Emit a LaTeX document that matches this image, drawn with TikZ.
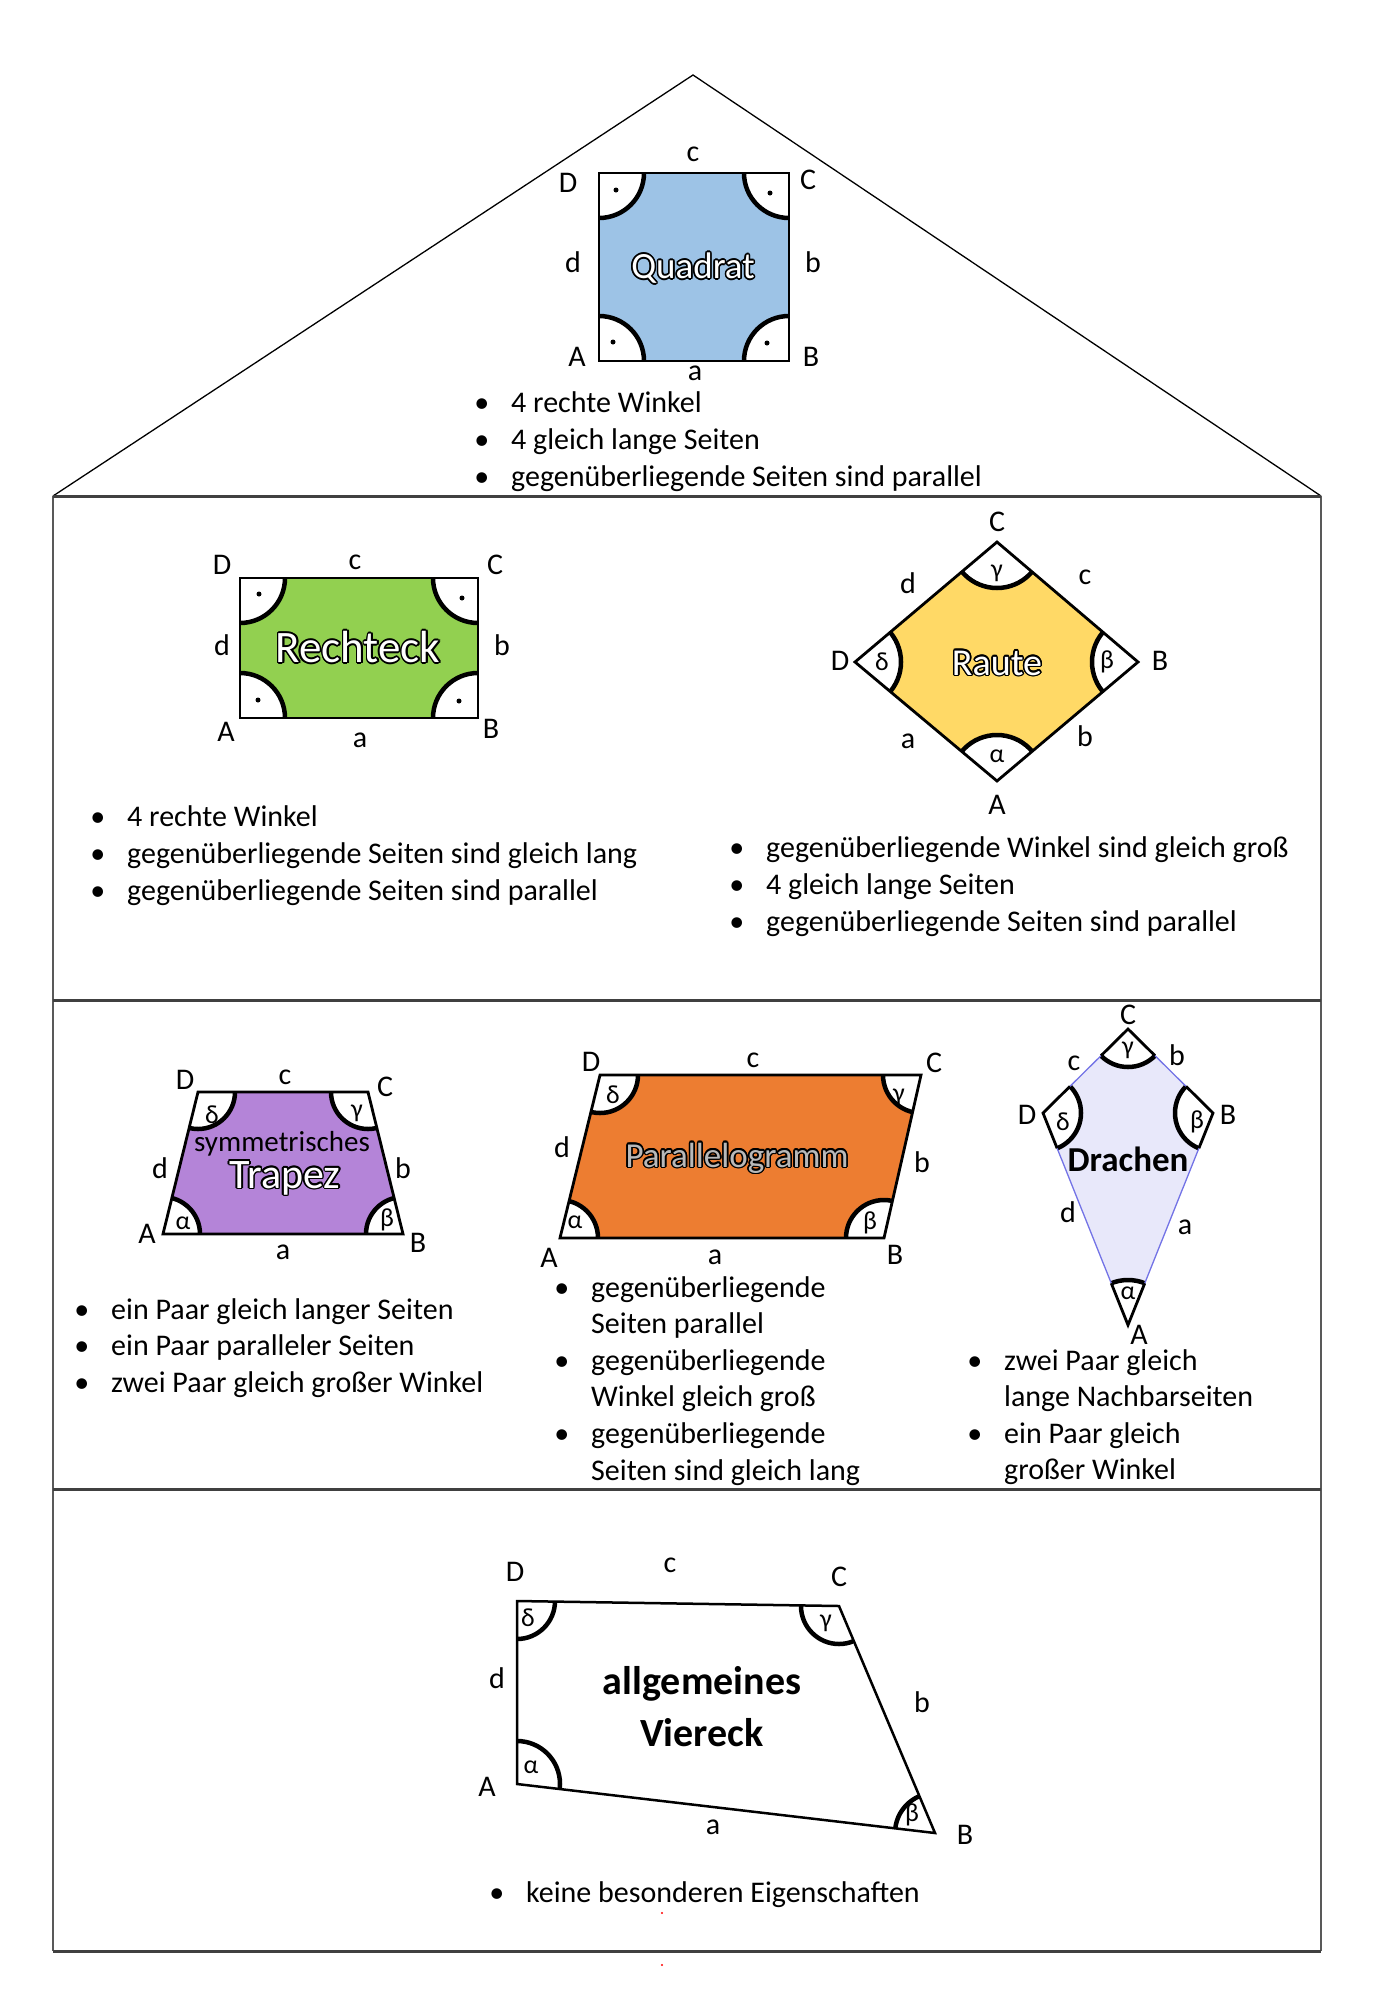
\documentclass[tikz,border=0pt]{standalone}
\usepackage{fontspec}
\setmainfont{Carlito}

\definecolor{quadratblue}{RGB}{157,195,230}
\definecolor{rechteckgreen}{RGB}{146,208,80}
\definecolor{rauteyellow}{RGB}{255,217,102}
\definecolor{trapezpurple}{RGB}{180,132,216}
\definecolor{parorange}{RGB}{237,125,49}
\definecolor{drachenfill}{RGB}{232,232,250}
\definecolor{drachenline}{RGB}{115,115,230}
\definecolor{wallgray}{RGB}{64,64,64}

% Schrift mit Umriss
\newcommand{\outlinetext}[5]{%
  \foreach \ang in {0,30,...,330}
    \node[font=\fontsize{#3}{#3}\selectfont,text=black,shift={(\ang:1.6pt)}] (#1h\ang) at (#2) {#5};
  \node[font=\fontsize{#3}{#3}\selectfont,text=#4] (#1) at (#2) {#5};}

\begin{document}
\begin{tikzpicture}[x=1pt,y=-1pt,
    every node/.style={inner sep=0pt},
    lab/.style={font=\fontsize{30}{30}\selectfont},
    greek/.style={font=\fontsize{26}{26}\selectfont},
    shapeline/.style={line width=2.8pt,line join=miter},
    anglemark/.style={draw=black,fill=white,line width=4.5pt},
    bulletline/.style={anchor=base west,font=\fontsize{30}{37}\selectfont,
      execute at begin node={\llap{\textbullet\hspace{22pt}}}},
    contline/.style={anchor=base west,font=\fontsize{30}{37}\selectfont}]
\useasboundingbox (0,0) rectangle (1385,2000);

% Haus
\coordinate (roofL) at (53,496);
\coordinate (roofTop) at (693,75);
\coordinate (roofR) at (1321,496);
\coordinate (baseL) at (53,1951);
\coordinate (baseR) at (1321,1951);
\draw[line width=1.3pt] (roofL) -- (roofTop) -- (roofR);
\draw[gray!70!black,line width=1.3pt] (roofL) -- (baseL) (roofR) -- (baseR);
\foreach \y in {496,1000,1489,1951}
  \draw[wallgray,line width=3pt] (53,\y) -- (1321,\y);

% Quadrat
\coordinate (qA) at (599,361);
\coordinate (qB) at (789,361);
\coordinate (qC) at (789,173);
\coordinate (qD) at (599,173);
\fill[quadratblue] (qA) -- (qB) -- (qC) -- (qD) -- cycle;
\begin{scope}
  \clip (qA) -- (qB) -- (qC) -- (qD) -- cycle;
  \foreach \v in {qA,qB,qC,qD} \draw[anglemark] (\v) circle (45pt);
\end{scope}
\draw[shapeline] (qA) -- (qB) -- (qC) -- (qD) -- cycle;
\foreach \p in {(616,190),(770,193),(613,342),(767,343)} \fill \p circle (2.5pt);
\outlinetext{qname}{693,268}{37}{white}{Quadrat}
\node[lab] (qlA) at (577,357) {A};
\node[lab] (qlB) at (811,357) {B};
\node[lab] (qlC) at (808,180) {C};
\node[lab] (qlD) at (568,183) {D};
\node[lab] (qla) at (695,373) {a};
\node[lab] (qlb) at (813,262) {b};
\node[lab] (qlc) at (693,154) {c};
\node[lab] (qld) at (573,262) {d};
\foreach \txt [count=\i from 0] in {4 rechte Winkel,4 gleich lange Seiten,gegenüberliegende Seiten sind parallel}
  \node[bulletline] (qt\i) at (511,{412+37*\i}) {\txt};

% Rechteck
\coordinate (rA) at (240,718);
\coordinate (rB) at (478,718);
\coordinate (rC) at (478,578);
\coordinate (rD) at (240,578);
\fill[rechteckgreen] (rA) -- (rB) -- (rC) -- (rD) -- cycle;
\begin{scope}
  \clip (rA) -- (rB) -- (rC) -- (rD) -- cycle;
  \foreach \v in {rA,rB,rC,rD} \draw[anglemark] (\v) circle (45pt);
\end{scope}
\draw[shapeline] (rA) -- (rB) -- (rC) -- (rD) -- cycle;
\foreach \p in {(259,594),(462,598),(258,700),(459,701)} \fill \p circle (2.5pt);
\outlinetext{rname}{358,647}{45}{white}{Rechteck}
\node[lab] (rlA) at (226,732) {A};
\node[lab] (rlB) at (491,729) {B};
\node[lab] (rlC) at (495,565) {C};
\node[lab] (rlD) at (222,565) {D};
\node[lab] (rla) at (360,740) {a};
\node[lab] (rlb) at (502,645) {b};
\node[lab] (rlc) at (355,562) {c};
\node[lab] (rld) at (222,645) {d};
\foreach \txt [count=\i from 0] in {4 rechte Winkel,gegenüberliegende Seiten sind gleich lang,gegenüberliegende Seiten sind parallel}
  \node[bulletline] (rt\i) at (127,{826+37*\i}) {\txt};

% Raute
\coordinate (hA) at (997,781);
\coordinate (hB) at (1138,662);
\coordinate (hC) at (997,542);
\coordinate (hD) at (855,662);
\fill[rauteyellow] (hA) -- (hB) -- (hC) -- (hD) -- cycle;
\begin{scope}
  \clip (hA) -- (hB) -- (hC) -- (hD) -- cycle;
  \foreach \v in {hA,hB,hC,hD} \draw[anglemark] (\v) circle (46pt);
\end{scope}
\draw[shapeline] (hA) -- (hB) -- (hC) -- (hD) -- cycle;
\outlinetext{hname}{997,663}{38}{white}{Raute}
\node[greek] (hgA) at (997,756) {α};
\node[greek] (hgB) at (1107,662) {β};
\node[greek] (hgC) at (997,573) {γ};
\node[greek] (hgD) at (882,662) {δ};
\node[lab] (hlA) at (997,805) {A};
\node[lab] (hlB) at (1160,661) {B};
\node[lab] (hlC) at (997,522) {C};
\node[lab] (hlD) at (840,661) {D};
\node[lab] (hla) at (908,741) {a};
\node[lab] (hlb) at (1085,736) {b};
\node[lab] (hlc) at (1085,577) {c};
\node[lab] (hld) at (908,583) {d};
\foreach \txt [count=\i from 0] in {gegenüberliegende Winkel sind gleich groß,4 gleich lange Seiten,gegenüberliegende Seiten sind parallel}
  \node[bulletline] (ht\i) at (766,{857+37*\i}) {\txt};

% symmetrisches Trapez
\coordinate (tA) at (163,1234);
\coordinate (tB) at (403,1234);
\coordinate (tC) at (368,1092);
\coordinate (tD) at (198,1092);
\fill[trapezpurple] (tA) -- (tB) -- (tC) -- (tD) -- cycle;
\begin{scope}
  \clip (tA) -- (tB) -- (tC) -- (tD) -- cycle;
  \foreach \v in {tA,tB,tC,tD} \draw[anglemark] (\v) circle (37pt);
\end{scope}
\draw[shapeline] (tA) -- (tB) -- (tC) -- (tD) -- cycle;
\node[font=\fontsize{29}{29}\selectfont] (tname1) at (282,1144) {symmetrisches};
\outlinetext{tname2}{285,1178}{42}{white}{Trapez}
\node[greek] (tgA) at (183,1223) {α};
\node[greek] (tgB) at (387,1220) {β};
\node[greek] (tgC) at (357,1113) {γ};
\node[greek] (tgD) at (212,1115) {δ};
\node[lab] (tlA) at (147,1234) {A};
\node[lab] (tlB) at (418,1243) {B};
\node[lab] (tlC) at (385,1087) {C};
\node[lab] (tlD) at (185,1080) {D};
\node[lab] (tla) at (283,1252) {a};
\node[lab] (tlb) at (403,1168) {b};
\node[lab] (tlc) at (285,1077) {c};
\node[lab] (tld) at (160,1168) {d};
\foreach \txt [count=\i from 0] in {ein Paar gleich langer Seiten,ein Paar paralleler Seiten,zwei Paar gleich großer Winkel}
  \node[bulletline] (tt\i) at (111,{1319+36.6*\i}) {\txt};

% Parallelogramm
\coordinate (pA) at (560,1238);
\coordinate (pB) at (884,1238);
\coordinate (pC) at (921,1075);
\coordinate (pD) at (600,1075);
\fill[parorange] (pA) -- (pB) -- (pC) -- (pD) -- cycle;
\begin{scope}
  \clip (pA) -- (pB) -- (pC) -- (pD) -- cycle;
  \foreach \v in {pA,pB,pC,pD} \draw[anglemark] (\v) circle (38pt);
\end{scope}
\draw[shapeline] (pA) -- (pB) -- (pC) -- (pD) -- cycle;
\outlinetext{pname}{737,1158}{35}{gray!55}{Parallelogramm}
\node[greek] (pgA) at (575,1222) {α};
\node[greek] (pgB) at (870,1223) {β};
\node[greek] (pgC) at (899,1097) {γ};
\node[greek] (pgD) at (613,1095) {δ};
\node[lab] (plA) at (549,1258) {A};
\node[lab] (plB) at (895,1255) {B};
\node[lab] (plC) at (934,1063) {C};
\node[lab] (plD) at (591,1062) {D};
\node[lab] (pla) at (715,1257) {a};
\node[lab] (plb) at (922,1162) {b};
\node[lab] (plc) at (753,1060) {c};
\node[lab] (pld) at (562,1147) {d};
\foreach \first/\second [count=\i from 0] in {gegenüberliegende/Seiten parallel,gegenüberliegende/Winkel gleich groß,gegenüberliegende/Seiten sind gleich lang} {
  \node[bulletline] (pt\i a) at (591,{1297+73.2*\i}) {\first};
  \node[contline] (pt\i b) at (591,{1333.6+73.2*\i}) {\second};
}

% Drachen
\coordinate (dA) at (1128,1325);
\coordinate (dB) at (1213,1113);
\coordinate (dC) at (1128,1029);
\coordinate (dD) at (1043,1113);
\fill[drachenfill] (dA) -- (dB) -- (dC) -- (dD) -- cycle;
\begin{scope}
  \clip (dA) -- (dB) -- (dC) -- (dD) -- cycle;
  \foreach \v/\r in {dA/45pt,dB/38pt,dC/38pt,dD/38pt} \draw[anglemark] (\v) circle (\r);
\end{scope}
\draw[drachenline,line width=1.3pt] (dA) -- (dB) -- (dC) -- (dD) -- cycle;
\foreach \v/\r in {dA/45pt,dB/38pt,dC/38pt,dD/38pt} {
  \begin{scope}
    \clip (\v) circle (\r);
    \draw[shapeline] (dA) -- (dB) -- (dC) -- (dD) -- cycle;
  \end{scope}
}
\node[font=\fontsize{35}{35}\selectfont\bfseries] (dname) at (1128,1159) {Drachen};
\node[greek] (dgA) at (1128,1293) {α};
\node[greek] (dgB) at (1197,1122) {β};
\node[greek] (dgC) at (1128,1050) {γ};
\node[greek] (dgD) at (1063,1122) {δ};
\node[lab] (dlA) at (1139,1335) {A};
\node[lab] (dlB) at (1228,1115) {B};
\node[lab] (dlC) at (1128,1015) {C};
\node[lab] (dlD) at (1027,1115) {D};
\node[lab] (dla) at (1185,1227) {a};
\node[lab] (dlb) at (1177,1055) {b};
\node[lab] (dlc) at (1074,1063) {c};
\node[lab] (dld) at (1068,1212) {d};
\foreach \first/\second [count=\i from 0] in {zwei Paar gleich/lange Nachbarseiten,ein Paar gleich/großer Winkel} {
  \node[bulletline] (dt\i a) at (1004,{1370+73.2*\i}) {\first};
  \node[contline] (dt\i b) at (1004,{1406.6+73.2*\i}) {\second};
}

% allgemeines Viereck
\coordinate (vA) at (517,1784);
\coordinate (vB) at (935,1833);
\coordinate (vC) at (839,1606);
\coordinate (vD) at (517,1601);
\begin{scope}
  \clip (vA) -- (vB) -- (vC) -- (vD) -- cycle;
  \foreach \v/\r in {vA/43pt,vB/40pt,vC/38pt,vD/38pt} \draw[anglemark] (\v) circle (\r);
\end{scope}
\draw[line width=2.5pt,line join=miter] (vA) -- (vB) -- (vC) -- (vD) -- cycle;
\node[font=\fontsize{40}{40}\selectfont\bfseries] (vname1) at (702,1684) {allgemeines};
\node[font=\fontsize{40}{40}\selectfont\bfseries] (vname2) at (702,1733) {Viereck};
\node[greek] (vgA) at (531,1767) {α};
\node[greek] (vgB) at (912,1815) {β};
\node[greek] (vgC) at (826,1623) {γ};
\node[greek] (vgD) at (528,1618) {δ};
\node[lab] (vlA) at (487,1787) {A};
\node[lab] (vlB) at (965,1835) {B};
\node[lab] (vlC) at (839,1577) {C};
\node[lab] (vlD) at (515,1572) {D};
\node[lab] (vla) at (713,1827) {a};
\node[lab] (vlb) at (922,1702) {b};
\node[lab] (vlc) at (670,1565) {c};
\node[lab] (vld) at (497,1678) {d};
\node[bulletline] (vt0) at (526,1902) {keine besonderen Eigenschaften};
\fill[red] (662,1913) circle (1.2pt);
\fill[red] (662,1965) circle (1.2pt);
\end{tikzpicture}
\end{document}
